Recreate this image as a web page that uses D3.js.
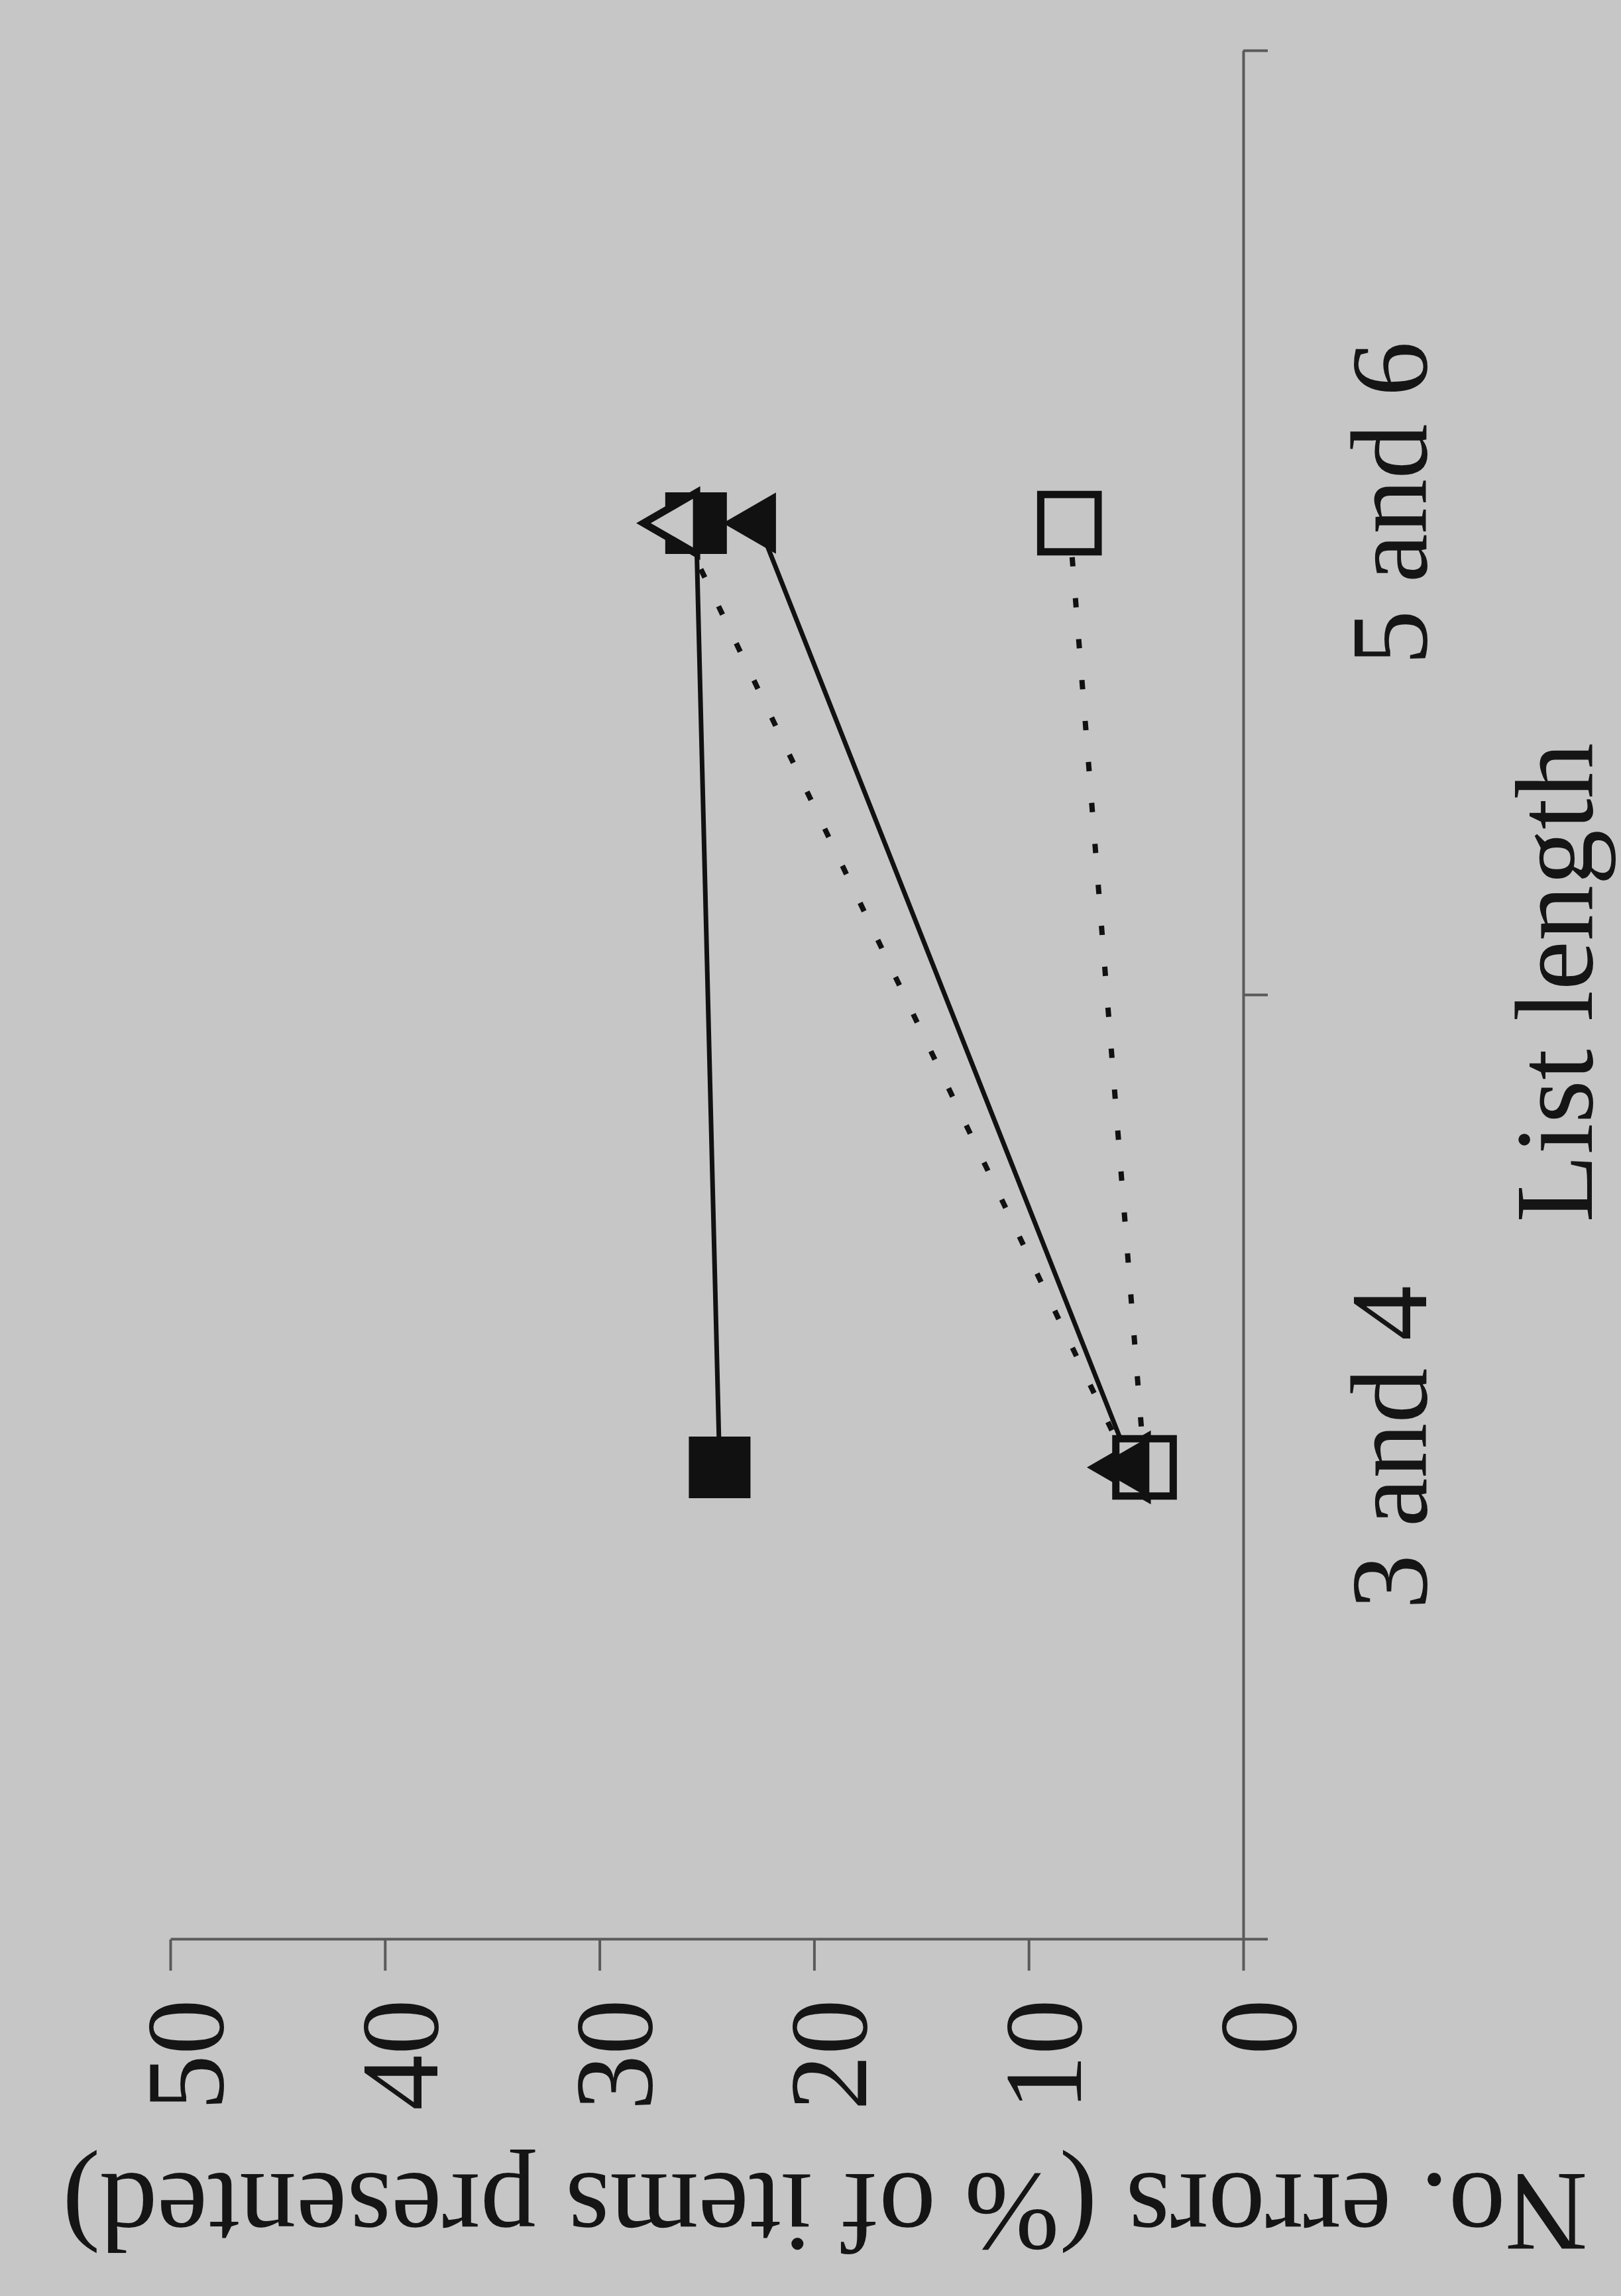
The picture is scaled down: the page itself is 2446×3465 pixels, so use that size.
<!DOCTYPE html>
<html>
<head>
<meta charset="utf-8">
<script src="https://cdn.jsdelivr.net/npm/d3@7"></script>
<style>
  body { margin: 0; background: #c6c6c6; }
  svg { display: block; }
  text { font-family: "Liberation Serif", "Times New Roman", serif; fill: #151515; }
</style>
</head>
<body>
<svg id="chart"></svg>
<script>
// data (chart is printed turned 90 degrees)
var categories = ["3 and 4", "5 and 6"];
var filledSquare = [24.4, 25.5];
var openTriangle = [5.3, 26.3];
var openSquare = [4.6, 8.1];
var filledTriangle = [5.2, 22.6];
var yTicks = [0, 10, 20, 30, 40, 50];

var yTitle = "No. errors (% of items presented)";
var xTitle = "List length";

var svgW = 2446, svgH = 3465;
var svg = d3.select("#chart")
    .attr("width", svgW)
    .attr("height", svgH);

svg.append("rect")
    .attr("width", svgW)
    .attr("height", svgH)
    .attr("fill", "#c6c6c6");

// plot size in the chart's own (unrotated) frame
var W = 2850, H = 1619;

// rotate the whole chart a quarter turn anticlockwise
var g = svg.append("g")
    .attr("transform", "translate(257,2927) rotate(-90)");

var x = d3.scaleBand()
    .domain(categories)
    .range([0, W]);

var xEdges = d3.scaleLinear()
    .domain([0, categories.length])
    .range([0, W]);

var y = d3.scaleLinear()
    .domain([0, 50])
    .range([H, 0]);

// axes
g.append("g")
    .call(d3.axisLeft(y).tickValues(yTicks).tickSize(47).tickSizeOuter(0).tickFormat(""));

g.append("g")
    .attr("transform", "translate(0," + H + ")")
    .call(d3.axisBottom(xEdges).tickValues([0, 1, 2]).tickSize(37).tickSizeOuter(0).tickFormat(""));

g.selectAll(".domain, .tick line")
    .attr("stroke", "#5a5a5a")
    .attr("stroke-width", 4);

// value tick labels
g.selectAll(".ylab")
    .data(yTicks)
    .enter()
    .append("text")
    .attr("class", "ylab")
    .attr("x", -90)
    .attr("y", function (d) { return y(d) + 20; })
    .attr("dy", "0.35em")
    .attr("text-anchor", "end")
    .style("font-size", "168px")
    .text(function (d) { return d; });

// category labels
g.selectAll(".xlab")
    .data(categories)
    .enter()
    .append("text")
    .attr("class", "xlab")
    .attr("x", function (d) { return x(d) + x.bandwidth() / 2 + 30; })
    .attr("y", H + 276)
    .attr("text-anchor", "middle")
    .style("font-size", "166px")
    .text(function (d) { return d; });

g.append("text")
    .attr("x", W / 2 + 19)
    .attr("y", H + 526)
    .attr("text-anchor", "middle")
    .style("font-size", "168px")
    .text(xTitle);

g.append("text")
    .attr("transform", "translate(-354,988) rotate(-90)")
    .attr("text-anchor", "middle")
    .style("font-size", "172px")
    .text(yTitle);

// series, drawn in this order so the overlaps look like the print
var series = [
    { values: filledSquare, dash: null, shape: d3.symbolSquare, size: 8650, fill: "#111" },
    { values: openTriangle, dash: "14 48", shape: d3.symbolTriangle, size: 3700, fill: "#c6c6c6" },
    { values: openSquare, dash: "14 48", shape: d3.symbolSquare, size: 7500, fill: "#c6c6c6" },
    { values: filledTriangle, dash: null, shape: d3.symbolTriangle, size: 3700, fill: "#111" }
];

var line = d3.line()
    .x(function (d, i) { return x(categories[i]) + x.bandwidth() / 2; })
    .y(function (d) { return y(d); });

series.forEach(function (s) {
    g.append("path")
        .attr("d", line(s.values))
        .attr("fill", "none")
        .attr("stroke", "#111")
        .attr("stroke-width", s.dash ? 8 : 7)
        .attr("stroke-dasharray", s.dash);
});

series.forEach(function (s) {
    g.selectAll(null)
        .data(s.values)
        .enter()
        .append("path")
        .attr("transform", function (d, i) {
            return "translate(" + (x(categories[i]) + x.bandwidth() / 2) + "," + y(d) + ")";
        })
        .attr("d", d3.symbol().type(s.shape).size(s.size))
        .attr("fill", s.fill)
        .attr("stroke", "#111")
        .attr("stroke-width", s.fill === "#111" ? 0 : 11);
});
</script>
</body>
</html>
